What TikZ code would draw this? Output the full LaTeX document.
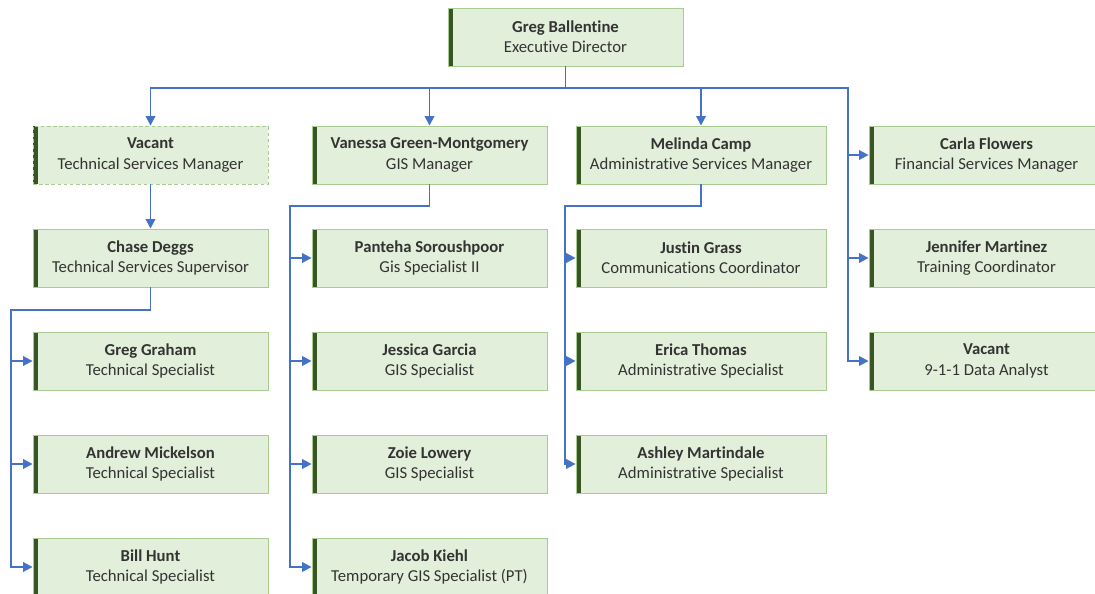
\documentclass[tikz,border=0pt]{standalone}
\usepackage{fontspec}
\setmainfont[Ligatures=NoCommon]{Carlito}
\usetikzlibrary{positioning,arrows.meta}
\definecolor{boxfill}{HTML}{E2EFDA}
\definecolor{boxline}{HTML}{A9CB91}
\definecolor{barcol}{HTML}{375623}
\definecolor{linkcol}{HTML}{4472C4}
\definecolor{txtcol}{HTML}{333333}

\begin{document}
\begin{tikzpicture}[x=0.02cm,y=-0.02cm,>={Triangle[length=1.9mm,width=1.9mm]},
  person/.style={draw=boxline,line width=0.5pt,fill=boxfill,minimum width=4.7cm,minimum height=1.16cm,inner sep=0pt,
    align=center,text=txtcol,font=\fontsize{9.5}{11.6}\selectfont,
    path picture={\fill[barcol] (path picture bounding box.north west) rectangle ([xshift=0.1cm]path picture bounding box.south west);}},
  wide/.style={minimum width=5cm},
  vacant/.style={dashed,dash pattern=on 2pt off 1.5pt},
  link/.style={draw=linkcol,line width=1.1pt}]
\clip (0,0) rectangle (1095,594);
\useasboundingbox (0,0) rectangle (1095,594);
% top
\node[person] (exec) at (565.5,37) {\textbf{Greg Ballentine}\\Executive Director};
% managers
\node[person,vacant] (tsm) at (150.5,155) {\textbf{Vacant}\\Technical Services Manager};
\node[person] (gis) at (429.5,155) {\textbf{Vanessa Green-Montgomery}\\GIS Manager};
\node[person,wide] (asm) at (701,155) {\textbf{Melinda Camp}\\Administrative Services Manager};
\node[person] (fsm) at (986.5,155) {\textbf{Carla Flowers}\\Financial Services Manager};
% technical services
\node[person] (tss) at (150.5,258) {\textbf{Chase Deggs}\\Technical Services Supervisor};
\node[person] (ts1) at (150.5,361) {\textbf{Greg Graham}\\Technical Specialist};
\node[person] (ts2) at (150.5,464) {\textbf{Andrew Mickelson}\\Technical Specialist};
\node[person] (ts3) at (150.5,567) {\textbf{Bill Hunt}\\Technical Specialist};
% gis
\node[person] (gs1) at (429.5,258) {\textbf{Panteha Soroushpoor}\\Gis Specialist II};
\node[person] (gs2) at (429.5,361) {\textbf{Jessica Garcia}\\GIS Specialist};
\node[person] (gs3) at (429.5,464) {\textbf{Zoie Lowery}\\GIS Specialist};
\node[person] (gs4) at (429.5,567) {\textbf{Jacob Kiehl}\\Temporary GIS Specialist (PT)};
% administrative services
\node[person,wide] (as1) at (701,258) {\textbf{Justin Grass}\\Communications Coordinator};
\node[person,wide] (as2) at (701,361) {\textbf{Erica Thomas}\\Administrative Specialist};
\node[person,wide] (as3) at (701,464) {\textbf{Ashley Martindale}\\Administrative Specialist};
% direct reports
\node[person] (fs1) at (986.5,258) {\textbf{Jennifer Martinez}\\Training Coordinator};
\node[person] (fs2) at (986.5,361) {\textbf{Vacant}\\9-1-1 Data Analyst};

% connectors
\coordinate (bus) at (565.5,88);
\coordinate (rt) at (848,88);
\draw[link] (exec.south) -- (bus);
\draw[link,->] (bus) -| (tsm.north);
\draw[link,->] (bus) -| (gis.north);
\draw[link,->] (bus) -| (asm.north);
\draw[link,->] (bus) -- (rt) |- (fsm.west);
\draw[link,->] (rt) |- (fs1.west);
\draw[link,->] (rt) |- (fs2.west);
\draw[link,->] (tsm.south) -- (tss.north);

\coordinate (t1) at (11,310);
\draw[link,->] (tss.south) |- (t1) |- (ts1.west);
\draw[link,->] (t1) |- (ts2.west);
\draw[link,->] (t1) |- (ts3.west);

\coordinate (t2) at (290,206);
\draw[link,->] (gis.south) |- (t2) |- (gs1.west);
\draw[link,->] (t2) |- (gs2.west);
\draw[link,->] (t2) |- (gs3.west);
\draw[link,->] (t2) |- (gs4.west);

\coordinate (t3) at (565,206);
\draw[link,->] (asm.south) |- (t3) |- (as1.west);
\draw[link,->] (t3) |- (as2.west);
\draw[link,->] (t3) |- (as3.west);
\end{tikzpicture}
\end{document}
